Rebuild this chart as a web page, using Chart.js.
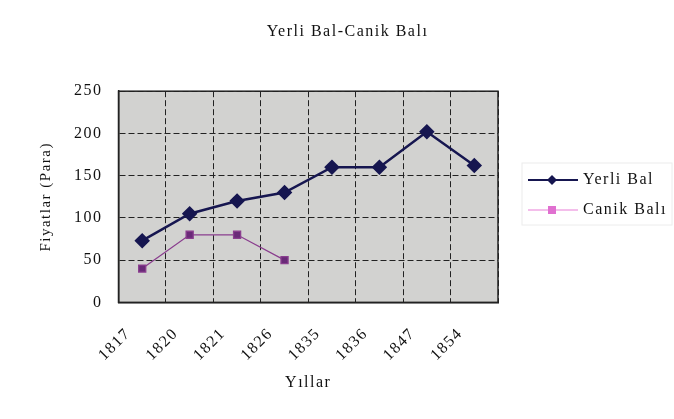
<!DOCTYPE html>
<html><head><meta charset="utf-8">
<script src="https://cdn.jsdelivr.net/npm/chart.js@4/dist/chart.umd.min.js"></script>
<style>html,body{margin:0;padding:0;background:#fff;}#wrap{width:674px;height:419px;}</style>
</head><body><div id="wrap"><canvas id="c" width="674" height="419"></canvas></div>
<script>
const years = ['1817','1820','1821','1826','1835','1836','1847','1854'];
const yerliBal = [73,105,120,130,160,160,202,162];
const canikBali = [40,80,80,50,null,null,null,null];
const yTicks = [0,50,100,150,200,250];
const FONT = '"Liberation Serif","Times New Roman",serif';
const SPACING = '1.5px';

const bgPlugin = {
  id:'bg',
  beforeLayout(chart){ chart.ctx.letterSpacing = SPACING; },
  beforeDraw(chart){
    const {ctx, chartArea:a} = chart;
    ctx.letterSpacing = SPACING;
    ctx.save();
    ctx.fillStyle='#d2d2d0';
    ctx.fillRect(a.left,a.top,a.right-a.left,a.bottom-a.top);
    ctx.restore();
  },
  afterDraw(chart){
    const {ctx, chartArea:a} = chart;
    ctx.save();
    ctx.strokeStyle='#222'; ctx.lineWidth=1.5;
    ctx.strokeRect(a.left,a.top,a.right-a.left,a.bottom-a.top);
    // legend
    const items = chart.data.datasets;
    const lx=528, ly=[180,210];
    ctx.strokeStyle='#ececec'; ctx.lineWidth=1;
    ctx.strokeRect(522,163,150,62);
    items.forEach((ds,i)=>{
      const y=ly[i];
      ctx.strokeStyle=ds.legendLine; ctx.lineWidth=ds.legendWidth;
      ctx.beginPath(); ctx.moveTo(lx,y); ctx.lineTo(lx+50,y); ctx.stroke();
      ctx.fillStyle=ds.legendMarker;
      if(ds.pointStyle==='rectRot'){
        ctx.beginPath(); ctx.moveTo(lx+24,y-5); ctx.lineTo(lx+29,y); ctx.lineTo(lx+24,y+5); ctx.lineTo(lx+19,y); ctx.closePath(); ctx.fill();
      } else {
        ctx.fillRect(lx+20,y-4,8,8);
      }
      ctx.fillStyle='#111'; ctx.font='16px '+FONT; ctx.textBaseline='middle'; ctx.textAlign='left';
      ctx.fillText(ds.label, 583, y);
    });
    ctx.restore();
  }
};

new Chart(document.getElementById('c'),{
  type:'line',
  data:{labels:years,datasets:[
    {label:'Yerli Bal',data:yerliBal,borderColor:'#161650',backgroundColor:'#161650',borderWidth:2.5,yAxisID:'y',
     pointStyle:'rectRot',pointRadius:6,pointHoverRadius:6,tension:0,legendLine:'#161650',legendMarker:'#161650',legendWidth:2},
    {label:'Canik Balı',data:canikBali,borderColor:'#8a3e8e',backgroundColor:'#6a2a78',borderWidth:1.3,yAxisID:'y',
     pointStyle:'rect',pointRadius:5,pointHoverRadius:5,tension:0,spanGaps:false,legendLine:'#f0a8e4',legendMarker:'#e070d0',legendWidth:1.5}
  ]},
  options:{
    responsive:false,animation:false,
    layout:{padding:{left:33,right:12,top:10,bottom:23}},
    plugins:{
      legend:{display:false},tooltip:{enabled:false},
      title:{display:true,text:'Yerli Bal-Canik Balı',color:'#111',font:{family:FONT,size:16,weight:'normal'},padding:{top:12,bottom:50}}
    },
    scales:{
      x:{offset:true,
        grid:{offset:true,color:'#222',lineWidth:1,tickLength:0,drawTicks:false},
        border:{display:true,color:'#222',width:1.5,dash:[6,3]},
        ticks:{color:'#111',font:{family:FONT,size:16},minRotation:45,maxRotation:45,padding:22,labelOffset:-14},
        title:{display:true,text:'Yıllar',color:'#111',font:{family:FONT,size:16},padding:{top:-14}}
      },
      y:{min:0,max:250,
        afterBuildTicks(s){s.ticks=yTicks.map(v=>({value:v}));},
        grid:{color:'#222',lineWidth:1,drawTicks:false},
        border:{display:true,color:'#222',width:1.5,dash:[6,3]},
        ticks:{color:'#111',font:{family:FONT,size:16},padding:16},
        title:{display:true,text:'Fiyatlar (Para)',color:'#111',font:{family:FONT,size:15},padding:{bottom:3}}
      },
      yr:{position:'right',display:true,min:0,max:250,
        grid:{display:false},border:{display:false},ticks:{display:false},
        afterFit(s){s.width=164;}
      }
    }
  },
  plugins:[bgPlugin]
});
</script></body></html>
